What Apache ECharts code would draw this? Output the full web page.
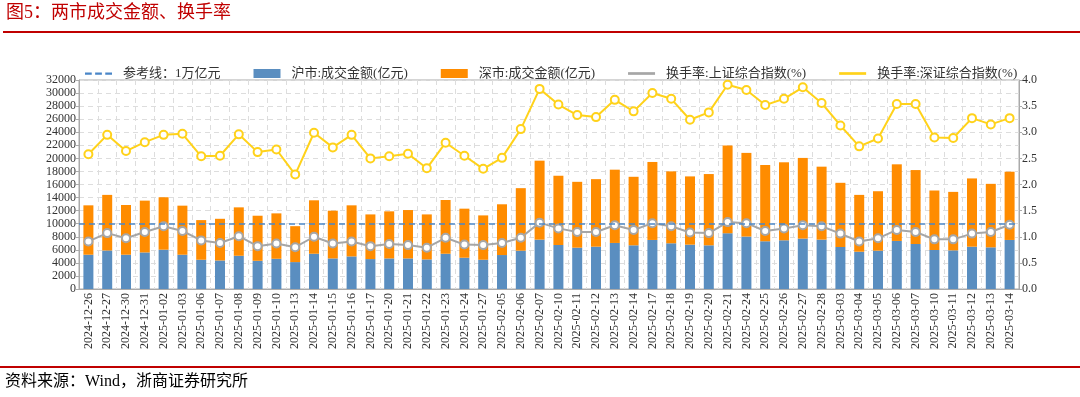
<!DOCTYPE html>
<html>
<head>
<meta charset="utf-8">
<script src="https://cdn.jsdelivr.net/npm/echarts@6/dist/echarts.min.js"></script>
<style>
html, body { margin: 0; padding: 0; background: #fff; }
#main { width: 1080px; height: 397px; }
</style>
</head>
<body>
<div id="main"></div>
<script>
// 交易日
var categories = [
	'2024-12-26', '2024-12-27', '2024-12-30', '2024-12-31', '2025-01-02', '2025-01-03', '2025-01-06',
	'2025-01-07', '2025-01-08', '2025-01-09', '2025-01-10', '2025-01-13', '2025-01-14', '2025-01-15',
	'2025-01-16', '2025-01-17', '2025-01-20', '2025-01-21', '2025-01-22', '2025-01-23', '2025-01-24',
	'2025-01-27', '2025-02-05', '2025-02-06', '2025-02-07', '2025-02-10', '2025-02-11', '2025-02-12',
	'2025-02-13', '2025-02-14', '2025-02-17', '2025-02-18', '2025-02-19', '2025-02-20', '2025-02-21',
	'2025-02-24', '2025-02-25', '2025-02-26', '2025-02-27', '2025-02-28', '2025-03-03', '2025-03-04',
	'2025-03-05', '2025-03-06', '2025-03-07', '2025-03-10', '2025-03-11', '2025-03-12', '2025-03-13',
	'2025-03-14'
];

// 沪市成交金额(亿元)
var shAmount = [
	5250, 5900, 5250, 5600, 6020, 5250, 4480, 4370, 5090, 4320,
	4630, 4120, 5400, 4680, 4990, 4580, 4680, 4680, 4530, 5400,
	4790, 4480, 5200, 5870, 7560, 6740, 6330, 6480, 7050, 6690,
	7510, 7000, 6790, 6690, 8540, 8030, 7310, 7460, 7720, 7560,
	6430, 5710, 5870, 7360, 6890, 5970, 5920, 6480, 6380, 7510
];

// 深市成交金额(亿元)
var szAmount = [
	7560, 8510, 7610, 7930, 8030, 7510, 6070, 6380, 7410, 6900,
	6950, 5500, 8180, 7310, 7820, 6840, 7210, 7410, 6890, 8230,
	7510, 6790, 7770, 9570, 12090, 10600, 10080, 10340, 11220, 10490,
	11940, 11010, 10450, 10910, 13430, 12810, 11680, 11940, 12350, 11170,
	9830, 8700, 9100, 11730, 11320, 9110, 8950, 10450, 9720, 10450
];

// 换手率:上证综合指数(%)
var shTurnover = [
	0.91, 1.07, 0.97, 1.09, 1.20, 1.11, 0.93, 0.88, 1.01, 0.82,
	0.87, 0.80, 1.00, 0.87, 0.91, 0.82, 0.86, 0.84, 0.79, 0.98,
	0.85, 0.84, 0.88, 0.98, 1.27, 1.16, 1.09, 1.09, 1.22, 1.13,
	1.26, 1.20, 1.08, 1.07, 1.28, 1.26, 1.11, 1.16, 1.22, 1.20,
	1.06, 0.91, 0.97, 1.13, 1.09, 0.95, 0.95, 1.06, 1.09, 1.23
];

// 换手率:深证综合指数(%)
var szTurnover = [
	2.58, 2.95, 2.64, 2.81, 2.95, 2.97, 2.54, 2.55, 2.96, 2.62,
	2.67, 2.19, 2.99, 2.71, 2.95, 2.50, 2.54, 2.59, 2.31, 2.80,
	2.55, 2.30, 2.51, 3.06, 3.83, 3.53, 3.33, 3.29, 3.62, 3.40,
	3.75, 3.64, 3.24, 3.38, 3.91, 3.81, 3.52, 3.64, 3.86, 3.56,
	3.13, 2.73, 2.88, 3.54, 3.54, 2.90, 2.89, 3.27, 3.15, 3.27
];

// 参考线：1万亿元
var refValue = 10000;

var FONT = '"Liberation Serif", "Noto Sans CJK SC", serif';
var LINE_ICON = 'path://M0,0H30V3H0Z';
var DASH_ICON = 'path://M0,0H6V2H0ZM9,0H15V2H9ZM18,0H24V2H18Z';

var myChart = echarts.init(document.getElementById('main'));

myChart.setOption({
	animation : false,
	textStyle : { fontFamily : FONT },
	graphic : [
		{ type : 'text', left : 6, top : 4, style : { text : '图5：两市成交金额、换手率', fill : '#C00000', font : '18px ' + FONT } },
		{ type : 'line', shape : { x1 : 3, y1 : 32, x2 : 1080, y2 : 32 }, style : { stroke : '#C00000', lineWidth : 2 } },
		{ type : 'line', shape : { x1 : 0, y1 : 367, x2 : 1080, y2 : 367 }, style : { stroke : '#C00000', lineWidth : 2 } },
		{ type : 'text', left : 5, top : 374, style : { text : '资料来源：Wind，浙商证券研究所', fill : '#000', font : '16px ' + FONT } }
	],
	legend : {
		left : 80,
		top : 62,
		itemWidth : 27,
		itemHeight : 9,
		itemGap : 33,
		textStyle : { fontSize : 13, color : '#333', padding : [ 0, 0, 0, 6 ] },
		data : [
			{ name : '参考线：1万亿元', icon : DASH_ICON },
			{ name : '沪市:成交金额(亿元)', icon : 'rect' },
			{ name : '深市:成交金额(亿元)', icon : 'rect' },
			{ name : '换手率:上证综合指数(%)', icon : LINE_ICON },
			{ name : '换手率:深证综合指数(%)', icon : LINE_ICON }
		]
	},
	grid : {
		left : 79,
		right : 61,
		top : 80,
		bottom : 108,
		show : true,
		borderColor : '#aaa',
		borderWidth : 1
	},
	xAxis : {
		type : 'category',
		data : categories,
		boundaryGap : true,
		axisLine : { lineStyle : { color : '#aaa' } },
		axisTick : { show : false },
		splitLine : { show : true, lineStyle : { color : '#ddd', type : [ 5, 4 ] } },
		axisLabel : {
			interval : 0,
			rotate : 90,
			margin : 4,
			fontSize : 12,
			color : '#333'
		}
	},
	yAxis : [ {
		type : 'value',
		min : 0,
		max : 32000,
		interval : 2000,
		axisLine : { show : true, lineStyle : { color : '#aaa' } },
		axisTick : { show : true, length : 3, lineStyle : { color : '#aaa' } },
		splitLine : { lineStyle : { color : '#ddd', type : [ 5, 4 ] } },
		axisLabel : {
			margin : 3,
			fontSize : 12,
			color : '#333',
			formatter : function(v) { return String(v); }
		}
	}, {
		type : 'value',
		min : 0,
		max : 4,
		interval : 0.5,
		axisLine : { show : true, lineStyle : { color : '#aaa' } },
		axisTick : { show : true, length : 3, lineStyle : { color : '#aaa' } },
		splitLine : { show : false },
		axisLabel : {
			margin : 3,
			fontSize : 12,
			color : '#333',
			formatter : function(v) { return v.toFixed(1); }
		}
	} ],
	series : [ {
		name : '参考线：1万亿元',
		type : 'line',
		data : [],
		color : '#4A86C8',
		itemStyle : { color : '#4A86C8' },
		markLine : {
			silent : true,
			symbol : 'none',
			label : { show : false },
			lineStyle : { color : '#4A86C8', type : [ 6, 4 ], width : 1.5 },
			data : [ { yAxis : refValue } ]
		},
		z : 5
	}, {
		name : '沪市:成交金额(亿元)',
		type : 'bar',
		stack : 'amount',
		barWidth : 10,
		data : shAmount,
		itemStyle : { color : '#5A8EC0' }
	}, {
		name : '深市:成交金额(亿元)',
		type : 'bar',
		stack : 'amount',
		barWidth : 10,
		data : szAmount,
		itemStyle : { color : '#FF8C00' }
	}, {
		name : '换手率:上证综合指数(%)',
		type : 'line',
		yAxisIndex : 1,
		data : shTurnover,
		color : '#A6A6A6',
		symbol : 'emptyCircle',
		symbolSize : 8,
		lineStyle : { color : '#A6A6A6', width : 2 },
		itemStyle : { color : '#A6A6A6', borderWidth : 2 },
		z : 4
	}, {
		name : '换手率:深证综合指数(%)',
		type : 'line',
		yAxisIndex : 1,
		data : szTurnover,
		color : '#FFD21A',
		symbol : 'emptyCircle',
		symbolSize : 8,
		lineStyle : { color : '#FFD21A', width : 2 },
		itemStyle : { color : '#FFD21A', borderWidth : 2 },
		z : 4
	} ]
});
</script>
</body>
</html>
